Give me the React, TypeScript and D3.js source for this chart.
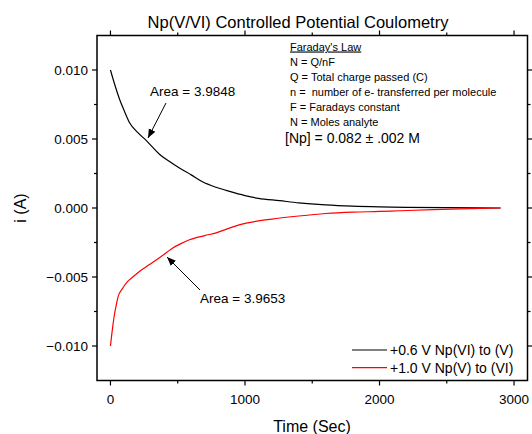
import React from 'react';
import * as d3 from 'd3';

// data
const blackTime = [0, 30, 67, 100, 141, 200, 265, 364, 450, 513, 600, 684, 785, 885, 1000, 1100, 1257, 1400, 1600, 1800, 2000, 2200, 2500, 2900];
const blackCurrent = [0.0100, 0.0090, 0.0079, 0.0071, 0.0062, 0.0055, 0.0049, 0.0039, 0.0033, 0.0029, 0.0024, 0.0019, 0.0015, 0.0012, 0.0009, 0.0007, 0.00053, 0.00037, 0.00022, 0.00013, 0.00008, 0.00005, 0.00002, 0.0];

const redTime = [0, 8, 17, 30, 42, 55, 92, 130, 166, 230, 290, 364, 420, 463, 520, 587, 700, 786, 900, 1009, 1200, 1400, 1600, 1800, 2000, 2150, 2400, 2600, 2900];
const redCurrent = [-0.0100, -0.0093, -0.0086, -0.0077, -0.0071, -0.0065, -0.0058, -0.0053, -0.0050, -0.0045, -0.0041, -0.0036, -0.0032, -0.0029, -0.0026, -0.0023, -0.0020, -0.0018, -0.0014, -0.0011, -0.0008, -0.00058, -0.00040, -0.00030, -0.00025, -0.00020, -0.00012, -0.00007, 0.0];

const xMajor = [0, 1000, 2000, 3000];
const xMinor = [500, 1500, 2500];
const yMajor = [-0.010, -0.005, 0.0, 0.005, 0.010];
const yMinor = [-0.0075, -0.0025, 0.0025, 0.0075];

const seriesNames = ['+0.6 V Np(VI) to (V)', '+1.0 V Np(V) to (VI)'];
const seriesColors = ['#000000', '#ff0000'];

const noteLines = [
  'N = Q/nF',
  'Q = Total charge passed (C)',
  'n =  number of e- transferred per molecule',
  'F = Faradays constant',
  'N = Moles analyte',
];

const FONT = '"Liberation Sans", Arial, sans-serif';

const App: React.FC = () => {
  const left = 97, right = 527.5, top = 35.5, bottom = 380.5;

  const x = d3.scaleLinear().domain([-100, 3100]).range([left, right]);
  const y = d3.scaleLinear().domain([-0.0125, 0.0125]).range([bottom, top]);

  const line = d3.line<[number, number]>()
    .x(d => x(d[0]))
    .y(d => y(d[1]))
    .curve(d3.curveMonotoneX);

  const blackPts = blackTime.map((t, i) => [t, blackCurrent[i]] as [number, number]);
  const redPts = redTime.map((t, i) => [t, redCurrent[i]] as [number, number]);

  const fmtY = (v: number) => (Math.abs(v) < 1e-9 ? '0.000' : d3.format('.3f')(v));

  return (
    <div style={{ position: 'absolute', left: 0, top: 0 }}>
      <svg width={532} height={434} style={{ display: 'block', background: '#fff' }} fontFamily={FONT}>
        <defs>
          <marker id="arr" viewBox="0 0 10 10" refX="10" refY="5" markerWidth="9" markerHeight="9" orient="auto-start-reverse" markerUnits="userSpaceOnUse">
            <path d="M0,1 L10,5 L0,9 z" fill="#000" />
          </marker>
        </defs>

        <text x={298} y={28} textAnchor="middle" fontSize={16.5}>Np(V/VI) Controlled Potential Coulometry</text>

        {/* curves */}
        <path d={line(blackPts) || ''} fill="none" stroke={seriesColors[0]} strokeWidth={1.2} />
        <path d={line(redPts) || ''} fill="none" stroke={seriesColors[1]} strokeWidth={1.2} />

        {/* frame */}
        <rect x={left} y={top} width={right - left} height={bottom - top} fill="none" stroke="#000" strokeWidth={1.5} />

        {/* x ticks */}
        {xMajor.map(v => (
          <g key={'xm' + v}>
            <line x1={x(v)} x2={x(v)} y1={bottom} y2={bottom + 5} stroke="#000" strokeWidth={1.2} />
            <line x1={x(v)} x2={x(v)} y1={top} y2={top - 5} stroke="#000" strokeWidth={1.2} />
            <text x={x(v)} y={404} textAnchor="middle" fontSize={13.5}>{v}</text>
          </g>
        ))}
        {xMinor.map(v => (
          <g key={'xn' + v}>
            <line x1={x(v)} x2={x(v)} y1={bottom} y2={bottom + 3} stroke="#000" strokeWidth={1.2} />
            <line x1={x(v)} x2={x(v)} y1={top} y2={top - 3} stroke="#000" strokeWidth={1.2} />
          </g>
        ))}

        {/* y ticks */}
        {yMajor.map(v => (
          <g key={'ym' + v}>
            <line x1={left} x2={left - 5} y1={y(v)} y2={y(v)} stroke="#000" strokeWidth={1.2} />
            <line x1={right} x2={right + 5} y1={y(v)} y2={y(v)} stroke="#000" strokeWidth={1.2} />
            <text x={88} y={y(v) + 5} textAnchor="end" fontSize={13.5}>{fmtY(v)}</text>
          </g>
        ))}
        {yMinor.map(v => (
          <g key={'yn' + v}>
            <line x1={left} x2={left - 3} y1={y(v)} y2={y(v)} stroke="#000" strokeWidth={1.2} />
            <line x1={right} x2={right + 3} y1={y(v)} y2={y(v)} stroke="#000" strokeWidth={1.2} />
          </g>
        ))}

        {/* axis titles */}
        <text x={312} y={432} textAnchor="middle" fontSize={16}>Time (Sec)</text>
        <text transform="translate(26,208) rotate(-90)" textAnchor="middle" fontSize={16}>i (A)</text>

        {/* annotations */}
        <text x={150} y={96} fontSize={13.5}>Area = 3.9848</text>
        <line x1={166} y1={103} x2={148} y2={138} stroke="#000" strokeWidth={1} markerEnd="url(#arr)" />
        <text x={200} y={303} fontSize={13.5}>Area = 3.9653</text>
        <line x1={200} y1={290} x2={167} y2={257} stroke="#000" strokeWidth={1} markerEnd="url(#arr)" />

        {/* note box */}
        <text x={290} y={50.5} fontSize={11} textDecoration="underline">Faraday's Law</text>
        {noteLines.map((s, i) => (
          <text key={s} x={290} y={66 + i * 15} fontSize={11} style={{ whiteSpace: 'pre' }}>{s}</text>
        ))}
        <text x={285} y={143} fontSize={14}>[Np] = 0.082 ± .002 M</text>

        {/* legend */}
        {seriesNames.map((s, i) => (
          <g key={s}>
            <line x1={352} x2={387} y1={350 + i * 17.7} y2={350 + i * 17.7} stroke={seriesColors[i]} strokeWidth={1.2} />
            <text x={390} y={355 + i * 17.7} fontSize={14}>{s}</text>
          </g>
        ))}
      </svg>
    </div>
  );
};

export default App;
